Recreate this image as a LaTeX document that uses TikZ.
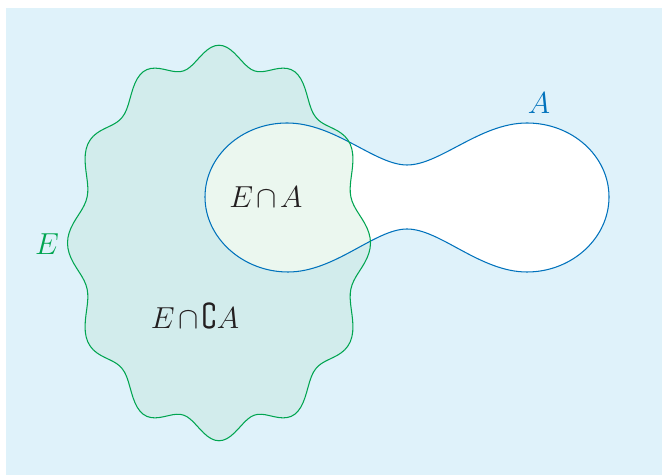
\documentclass[tikz,border=0pt]{standalone}
\usepackage{amsmath}
\usepackage{amssymb}

\definecolor{bgblue}{RGB}{223,242,250}
\definecolor{efill}{RGB}{210,236,236}
\definecolor{eafill}{RGB}{235,247,239}
\definecolor{egreen}{RGB}{0,165,80}
\definecolor{ablue}{RGB}{0,114,188}
\definecolor{txt}{RGB}{35,31,32}

% wavy set E and dumbbell set A (pixel units)
\newcommand{\Eshape}{plot[domain=0:360,samples=241]
  ({219+144*(1+0.052*cos(12*\x))*cos(\x)},{243+188*(1+0.052*cos(12*\x))*sin(\x)}) -- cycle}
\newcommand{\Ashape}{(205,197) .. controls (205,156) and (242,123) .. (287,123)
  .. controls (335,123) and (375,165) .. (407,165)
  .. controls (440,165) and (480,123) .. (527,123)
  .. controls (572,123) and (609,156) .. (609,197)
  .. controls (609,238) and (572,272) .. (527,272)
  .. controls (480,272) and (440,229) .. (407,229)
  .. controls (375,229) and (335,272) .. (288,272)
  .. controls (243,272) and (205,238) .. (205,197) -- cycle}

\begin{document}
\begin{tikzpicture}[x=0.02cm,y=-0.02cm,font=\LARGE,
    lbl/.style={inner sep=0pt,text=txt}]

    \useasboundingbox (0,0) rectangle (662,475);

    % Background
    \fill[bgblue] (6,8) rectangle (662,475);

    % Sets
    \fill[white] \Ashape;
    \fill[efill] \Eshape;
    \begin{scope}
        \clip \Ashape;
        \fill[eafill] \Eshape;
    \end{scope}
    \draw[ablue,line width=0.6pt] \Ashape;
    \draw[egreen,line width=0.6pt] \Eshape;

    % Labels
    \node[lbl] (inter) at (266,197) {$E\mskip-2mu\cap\mskip-2mu A$};
    \node[lbl] (diff) at (195,316) {$E\mskip-2mu\cap\mskip-2mu\complement A$};
    \node[lbl,text=egreen] (labE) at (47,244) {$E$};
    \node[lbl,text=ablue] (labA) at (539,103) {$A$};

\end{tikzpicture}
\end{document}
